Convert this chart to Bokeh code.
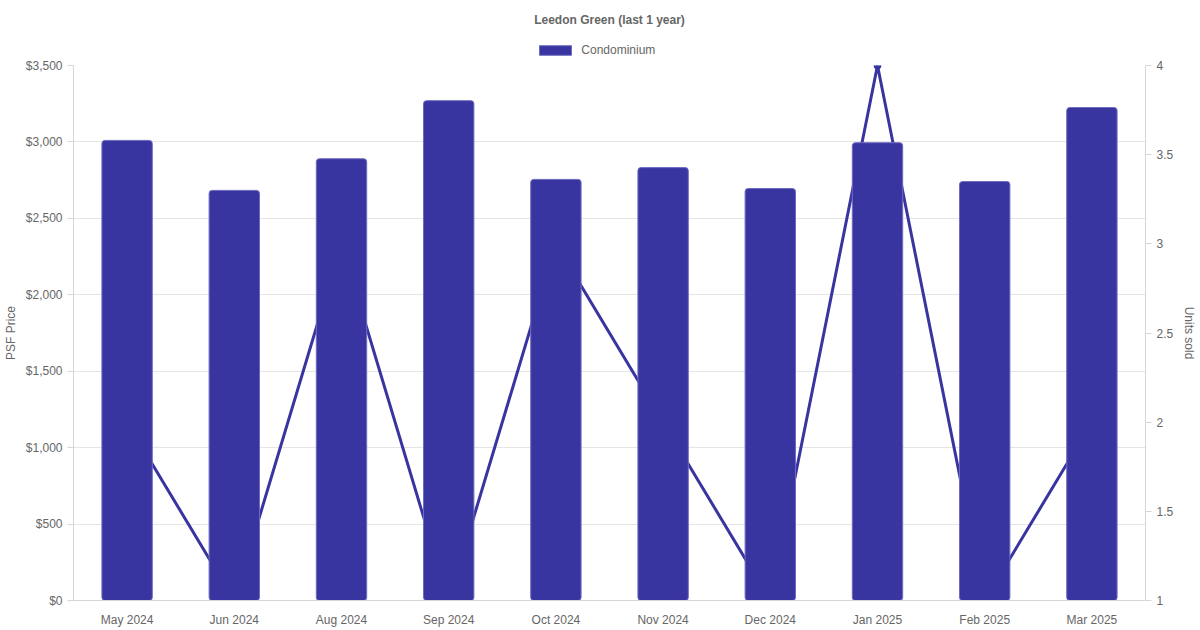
from bokeh.plotting import figure
from bokeh.layouts import column
from bokeh.models import (Range1d, LinearAxis, SingleIntervalTicker, NumeralTickFormatter,
                          Legend, LegendItem, FactorRange)
from bokeh.embed import file_html
from bokeh.resources import INLINE

months = ["May 2024", "Jun 2024", "Aug 2024", "Sep 2024", "Oct 2024",
          "Nov 2024", "Dec 2024", "Jan 2025", "Feb 2025", "Mar 2025"]
psf = [3010, 2683, 2890, 3270, 2755, 2832, 2695, 2995, 2741, 3225]
units = [2, 1, 3, 1, 3, 2, 1, 4, 1, 2]

COLOR = "#3935a0"
EDGE = "#6f6cc0"
FONT = "Liberation Sans"
TXT = "#666666"

# ---- header: title + legend ----
head = figure(x_range=Range1d(0, 1), y_range=Range1d(0, 1), frame_width=1072, height=57,
              x_axis_type=None, y_axis_type=None, output_backend="svg", toolbar_location=None,
              min_border_left=46, min_border_right=0, min_border_top=0, min_border_bottom=0)
head.outline_line_color = None
head.grid.grid_line_color = None
head.title.text = "Leedon Green (last 1 year)"
head.title.align = "center"
head.title.offset = -10
head.title.text_font = FONT
head.title.text_font_size = "12px"
head.title.text_font_style = "bold"
head.title.text_color = TXT
head.title.standoff = 20
# legend swatch proxy (kept outside the visible header range, zero height)
legend_r = head.vbar(x=[-5], top=[0], bottom=[0], width=0.5, fill_color=COLOR,
                     line_color=EDGE, line_width=1)
legend = Legend(items=[LegendItem(label="Condominium", renderers=[legend_r])],
                orientation="horizontal", location=(520, 0),
                label_text_font=FONT, label_text_font_size="12px", label_text_color=TXT,
                glyph_width=40, glyph_height=12, label_height=12, border_line_color=None,
                background_fill_alpha=0, padding=0, margin=0, spacing=0, label_standoff=6)
head.add_layout(legend, "center")

# ---- main chart ----
p = figure(x_range=FactorRange(*months, range_padding=0), y_range=Range1d(0, 3500),
           frame_width=1072, frame_height=535, output_backend="svg", toolbar_location=None,
           min_border_left=66, min_border_right=40, min_border_top=8, min_border_bottom=20)
p.extra_y_ranges = {"units": Range1d(1, 4)}

p.outline_line_color = None
p.xgrid.grid_line_color = None
p.ygrid.grid_line_color = "#e5e5e5"
p.ygrid.ticker = SingleIntervalTicker(interval=500)

p.line(months, units, y_range_name="units", line_color=COLOR, line_width=3)
p.scatter(months, units, y_range_name="units", size=7, color=COLOR)
p.vbar(x=months, top=psf, width=0.47, fill_color=COLOR, line_color=EDGE,
       line_width=1, border_radius=3)

ya = p.yaxis[0]
ya.ticker = SingleIntervalTicker(interval=500)
ya.formatter = NumeralTickFormatter(format="$0,0")
ya.axis_label = "PSF Price"

right = LinearAxis(y_range_name="units", ticker=SingleIntervalTicker(interval=0.5),
                   formatter=NumeralTickFormatter(format="0.[0]"), axis_label="Units sold")
p.add_layout(right, "right")

for ax in [ya, right, p.xaxis[0]]:
    ax.axis_line_color = "#d6d6d6"
    ax.major_tick_line_color = "#d6d6d6"
    ax.major_tick_out = 6
    ax.major_tick_in = 0
    ax.minor_tick_line_color = None
    ax.major_label_text_font = FONT
    ax.major_label_text_font_size = "12px"
    ax.major_label_text_color = TXT
    ax.axis_label_text_font = FONT
    ax.axis_label_text_font_size = "12px"
    ax.axis_label_text_font_style = "normal"
    ax.axis_label_text_color = TXT
ya.axis_label_standoff = 5
right.axis_label_standoff = 6
p.xaxis[0].major_tick_line_color = None
p.xaxis[0].major_label_standoff = 6

layout = column(head, p, spacing=0)
open("out.html", "w").write(file_html(layout, INLINE))
